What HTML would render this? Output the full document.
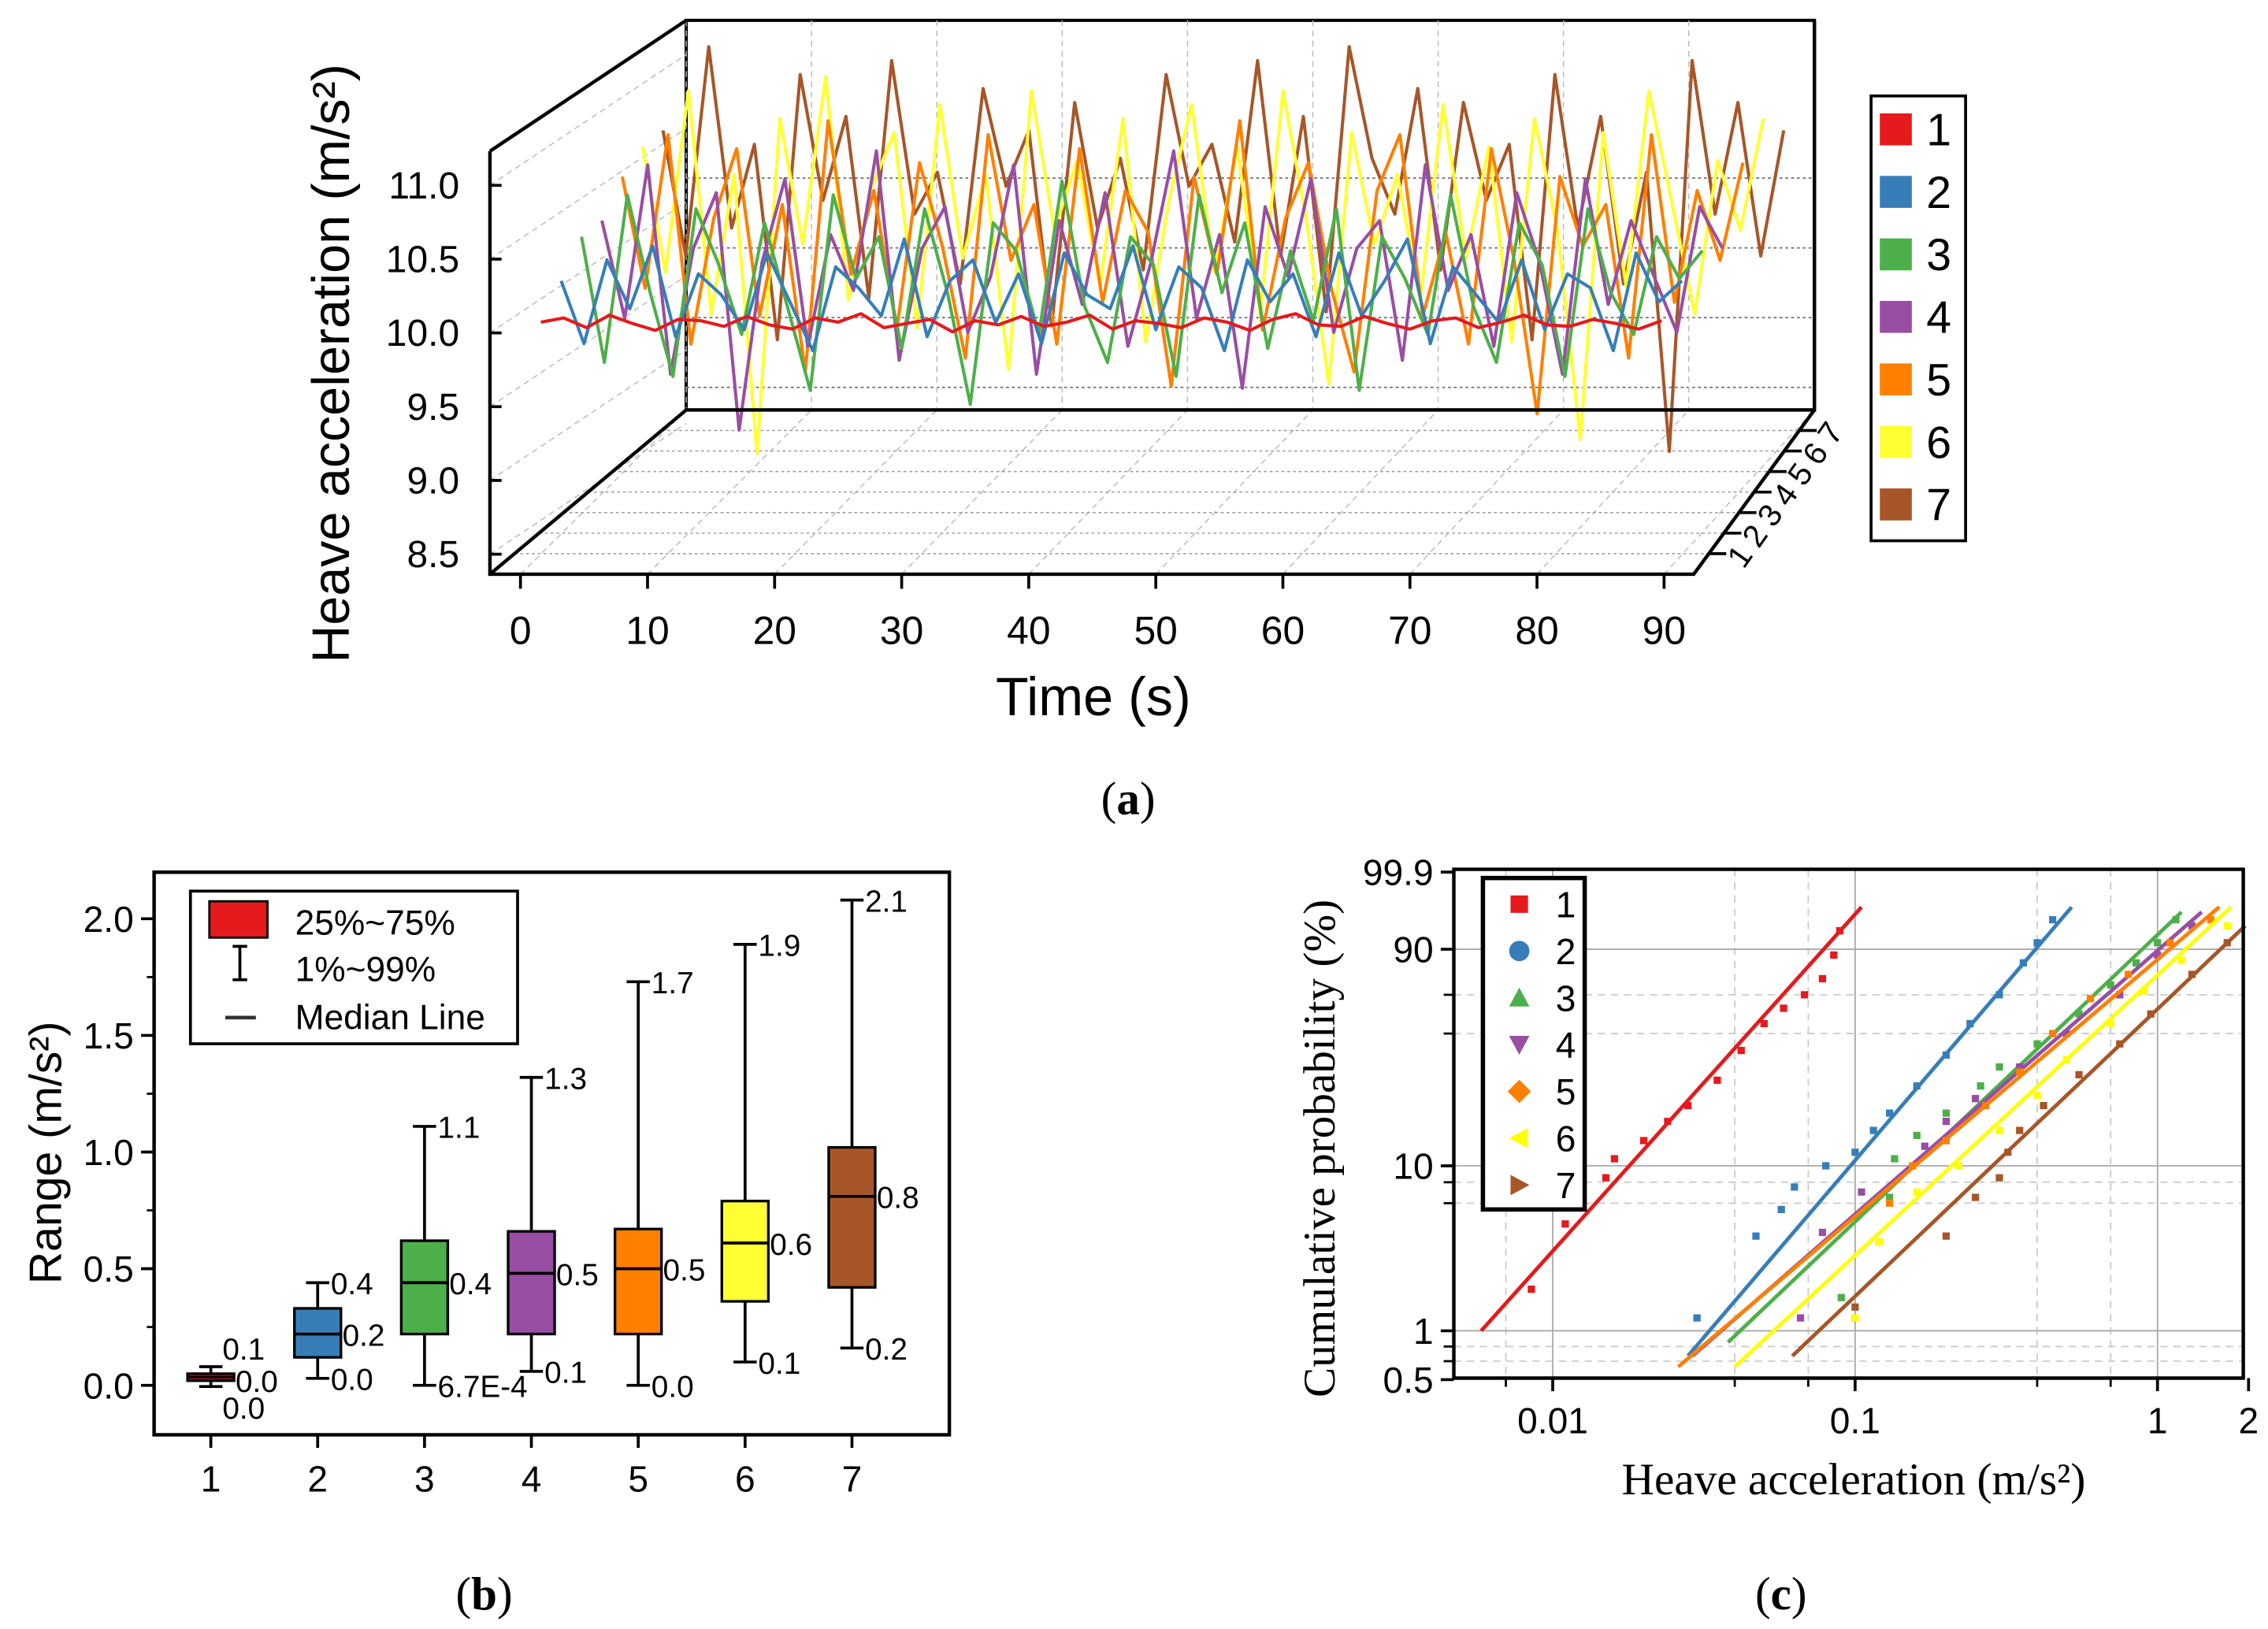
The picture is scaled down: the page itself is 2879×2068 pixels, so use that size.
<!DOCTYPE html>
<html><head><meta charset="utf-8"><style>
html,body{margin:0;padding:0;background:#fff}
svg{display:block}
text{font-family:"Liberation Sans",sans-serif}
.serif{font-family:"Liberation Serif",serif}
</style></head><body>
<svg id="fig" xmlns="http://www.w3.org/2000/svg" width="2879" height="2068" viewBox="0 0 1560 1120.6" preserveAspectRatio="none">
<g id="pa"></g>
<g id="pb"></g>
<g id="pc"></g>
</svg>
<script>
// ---------- Panel (a) data ----------
const seriesNames=["1","2","3","4","5","6","7"];
const seriesColors=["#e41a1c","#377eb8","#4daf4a","#984ea3","#ff7f00","#ffff33","#a65628"];
const timeStep=1.8;
const s1=[10.02,10.05,9.98,10.07,10.01,9.96,10.04,10.03,9.99,10.06,10.00,9.97,10.05,10.02,10.08,9.98,10.01,10.04,9.95,10.03,10.00,10.06,9.99,10.02,10.07,9.97,10.03,10.01,9.98,10.05,10.02,9.96,10.04,10.08,10.00,9.99,10.06,10.01,9.97,10.03,10.05,9.98,10.02,10.07,10.00,9.99,10.04,10.01,9.97,10.03];
const s2=[10.30,9.85,10.45,10.10,10.55,9.90,10.35,10.20,9.95,10.50,10.15,9.80,10.40,10.25,10.05,10.60,9.90,10.30,10.45,10.00,10.35,9.85,10.50,10.20,10.10,10.55,9.95,10.40,10.25,9.80,10.45,10.15,10.35,9.90,10.50,10.05,10.30,10.60,9.85,10.40,10.20,10.00,10.45,9.95,10.35,10.25,9.80,10.50,10.15,10.30];
const s3=[10.6,9.7,10.9,10.2,9.6,10.8,10.4,9.9,10.7,10.1,9.5,10.9,10.3,10.6,9.8,10.8,10.2,9.4,10.7,10.5,9.9,11.0,10.1,9.7,10.6,10.4,9.6,10.9,10.2,10.7,9.8,10.5,10.0,10.8,9.5,10.6,10.3,9.9,10.9,10.1,9.7,10.7,10.4,9.6,10.8,10.2,9.9,10.6,10.3,10.5];
const s4=[10.7,10.0,11.1,9.6,10.5,10.9,9.2,10.4,11.0,9.8,10.6,10.2,11.2,9.7,10.5,10.8,9.9,10.3,11.1,9.6,10.7,10.1,10.9,9.8,10.4,11.2,10.0,10.6,9.5,10.8,10.3,11.0,9.9,10.5,10.7,9.7,11.1,10.2,10.6,9.8,10.9,10.4,9.6,11.0,10.1,10.7,10.3,9.9,10.8,10.5];
const s5=[11.0,10.2,11.3,9.8,10.7,11.2,10.0,10.8,9.6,11.4,10.3,10.9,9.9,11.1,10.5,9.7,11.3,10.4,10.8,9.8,11.2,10.1,10.9,10.6,9.5,11.0,10.3,11.4,9.9,10.7,11.1,10.2,9.6,10.9,11.3,10.0,10.6,9.8,11.2,10.4,9.3,11.0,10.5,10.8,9.7,11.3,10.1,10.9,10.4,11.1];
const s6=[11.2,10.3,11.6,10.0,11.0,9.0,11.4,10.5,11.7,10.1,10.9,11.3,9.9,11.5,10.4,11.0,9.6,11.6,10.6,11.1,10.2,11.4,9.8,10.8,11.5,10.3,11.2,10.0,11.6,10.7,9.5,11.3,10.5,11.0,10.1,11.5,10.4,11.2,9.8,11.4,10.6,9.1,11.3,10.2,11.6,10.8,10.0,11.1,10.6,11.4];
const s7=[11.3,10.4,11.9,10.6,11.2,9.8,11.7,10.8,11.4,10.1,11.8,10.7,11.0,10.2,11.6,10.9,11.3,9.9,11.5,10.6,11.1,10.3,11.7,10.9,11.2,10.5,11.8,10.4,11.4,10.0,11.9,11.1,10.7,11.6,10.3,11.5,10.8,11.2,9.8,11.7,10.6,11.4,10.2,11.0,9.0,11.8,10.7,11.5,10.4,11.3];
const timeSeries=[s1,s2,s3,s4,s5,s6,s7];
const aYTicks=[8.5,9.0,9.5,10.0,10.5,11.0];
const aXTicks=[0,10,20,30,40,50,60,70,80,90];
// ---------- Panel (b) data ----------
const boxCats=["1","2","3","4","5","6","7"];
const boxQ1=[0.02,0.12,0.22,0.22,0.22,0.36,0.42];
const boxQ3=[0.05,0.33,0.62,0.66,0.67,0.79,1.02];
const boxMed=[0.035,0.22,0.44,0.48,0.50,0.61,0.81];
const boxLo=[-0.005,0.03,0.0,0.06,0.0,0.10,0.16];
const boxHi=[0.08,0.44,1.11,1.32,1.73,1.89,2.08];
const boxHiLbl=["0.1","0.4","1.1","1.3","1.7","1.9","2.1"];
const boxMedLbl=["0.0","0.2","0.4","0.5","0.5","0.6","0.8"];
const boxLoLbl=["0.0","0.0","6.7E-4","0.1","0.0","0.1","0.2"];
const bYTicks=[0,0.5,1.0,1.5,2.0];
// ---------- Panel (c) data ----------
const fitX0=[0.0058,0.028,0.038,0.029,0.026,0.040,0.062];
const fitP0=[1.0,0.7,0.85,0.7,0.6,0.6,0.7];
const fitX1=[0.105,0.52,1.2,1.4,1.6,1.75,1.95];
const fitP1=[98.5,98.5,98,98,98.5,98.5,96];
const ptX=[[0.0085,0.011,0.015,0.016,0.02,0.024,0.028,0.035,0.042,0.05,0.058,0.068,0.078,0.085,0.089],
[0.03,0.047,0.057,0.063,0.08,0.1,0.115,0.13,0.16,0.2,0.24,0.3,0.36,0.4,0.45],
[0.09,0.13,0.135,0.16,0.2,0.26,0.3,0.4,0.55,0.7,0.85,1.0,1.15],
[0.066,0.078,0.105,0.17,0.2,0.25,0.35,0.5,0.75,1.0,1.3],
[0.1,0.12,0.13,0.155,0.2,0.27,0.35,0.45,0.6,0.8,1.1,1.5],
[0.1,0.12,0.16,0.22,0.3,0.4,0.5,0.7,0.9,1.2,1.7],
[0.1,0.2,0.25,0.3,0.32,0.35,0.42,0.55,0.75,0.95,1.3,1.7]];
const ptP=[[1.8,4.5,8.5,11,14,18,22,30,42,55,63,70,78,88,95],
[1.2,3.8,5.5,7.5,10,12,16,20,28,40,55,70,85,92,97],
[1.6,6.5,11,15,20,28,35,45,60,75,85,92,97],
[1.2,4,7,13,18,24,35,50,70,88,96],
[1.2,3.5,6,10,14,22,33,50,68,80,92,97],
[1.2,3.5,7,10,16,25,38,55,72,86,96],
[1.4,3.8,6.5,8.5,12,16,22,32,45,60,80,92]];
const cXTicks=[0.01,0.1,1,2];
const cXLbl=["0.01","0.1","1","2"];
const cYTicks=[0.5,1,10,90,99.9];
const cYLbl=["0.5","1","10","90","99.9"];

const NS="http://www.w3.org/2000/svg";
function mk(parent,tag,attrs,txt){const e=document.createElementNS(NS,tag);for(const k in attrs)e.setAttribute(k,attrs[k]);if(txt!==undefined)e.textContent=txt;parent.appendChild(e);return e;}

// ===== Panel A =====
const pa=document.getElementById('pa');
const axX=t=>358+t*8.74;
const frontY=v=>229-(v-10)*101.5;
const serX=(t,d)=>axX(t)+d*14;
const serY=(v,d)=>225-(v-10)*96-d*1.5;
// back wall & frame
let e;
e=mk(pa,'rect',{x:472,y:14,width:776,height:268,fill:'none',stroke:'#000','stroke-width':2.2});


for(const v of aYTicks){const y=serY(v,7)+4;if(y>16&&y<280){e=mk(pa,'line',{x1:472,y1:y,x2:1248,y2:y,stroke:'#777','stroke-width':1,'stroke-dasharray':'2,2'});}}
for(const t of aXTicks){const x=472+t*8.62;e=mk(pa,'line',{x1:x,y1:14,x2:x,y2:282,stroke:'#bbb','stroke-width':0.8,'stroke-dasharray':'4,3'});
 e=mk(pa,'line',{x1:axX(t),y1:395,x2:x,y2:282,stroke:'#bbb','stroke-width':0.8,'stroke-dasharray':'4,3'});}
for(let d=1;d<=7;d++){const f=d/8;e=mk(pa,'line',{x1:337+135*f,y1:395-113*f,x2:1165+83*f,y2:395-113*f,stroke:'#999','stroke-width':0.8,'stroke-dasharray':'2,2'});}
for(const v of aYTicks){const y=frontY(v);e=mk(pa,'line',{x1:337,y1:y,x2:472,y2:y-90,stroke:'#bbb','stroke-width':0.8,'stroke-dasharray':'4,3'});}
// series
for(let d=7;d>=1;d--){const arr=timeSeries[d-1];let pts=arr.map((v,i)=>serX(i*timeStep,d).toFixed(1)+','+serY(v,d).toFixed(1)).join(' ');
 e=mk(pa,'polyline',{points:pts,fill:'none',stroke:seriesColors[d-1],'stroke-width':2.2,'stroke-linejoin':'round'});
 
 }
// left face and floor edges
mk(pa,'path',{d:'M337,104 L472,14 M337,104 L337,395 L1165,395 L1248,282 M337,395 L472,282 L1248,282 L1248,14',fill:'none',stroke:'#000','stroke-width':2.4});
for(const v of aYTicks){const y=frontY(v);mk(pa,'line',{x1:337,y1:y,x2:345,y2:y,stroke:'#000','stroke-width':2});
 e=mk(pa,'text',{x:316,y:y+9,'font-size':26,'text-anchor':'end'},v.toFixed(1));}
for(const t of aXTicks){const x=axX(t);mk(pa,'line',{x1:x,y1:395,x2:x,y2:405,stroke:'#000','stroke-width':2});
 e=mk(pa,'text',{x:x,y:443,'font-size':27,'text-anchor':'middle'},String(t));}
for(let d=1;d<=7;d++){const f=d/8;const x=1165+83*f,y=395-113*f;mk(pa,'line',{x1:x,y1:y,x2:x+12,y2:y,stroke:'#000','stroke-width':2});
 e=mk(pa,'text',{x:x+14,y:y+8,'font-size':22,transform:`rotate(-55 ${x+22} ${y})`},String(d));}
e=mk(pa,'text',{x:240,y:250,'font-size':36,'text-anchor':'middle',transform:'rotate(-90 240 250)'},'Heave acceleration (m/s²)');
e=mk(pa,'text',{x:752,y:492,'font-size':37,'text-anchor':'middle'},'Time (s)');
e=mk(pa,'rect',{x:1287,y:66,width:65,height:306,fill:'#fff',stroke:'#000','stroke-width':2});
for(let i=0;i<7;i++){const y=89+i*43;e=mk(pa,'rect',{x:1293,y:y-11,width:22,height:22,fill:seriesColors[i]});
 e=mk(pa,'text',{x:1325,y:y+11,'font-size':31},seriesNames[i]);}
e=mk(pa,'text',{x:776,y:560,'font-size':32,'text-anchor':'middle',class:'serif'},'(');
e.innerHTML='(<tspan font-weight="bold">a</tspan>)';

// ===== Panel B =====
const pb=document.getElementById('pb');
const bY=v=>953-v*160.5;const bX=i=>145+i*73.5;
e=mk(pb,'rect',{x:106,y:600,width:547,height:387,fill:'none',stroke:'#000','stroke-width':2.4});
for(const v of bYTicks){const y=bY(v);mk(pb,'line',{x1:106,y1:y,x2:97,y2:y,stroke:'#000','stroke-width':2});
 e=mk(pb,'text',{x:92,y:y+9,'font-size':25,'text-anchor':'end'},v.toFixed(1));}
for(let i=0;i<4;i++){const y=bY(0.25+i*0.5);mk(pb,'line',{x1:106,y1:y,x2:101,y2:y,stroke:'#000','stroke-width':1.5});}
for(let i=0;i<7;i++){const x=bX(i);mk(pb,'line',{x1:x,y1:987,x2:x,y2:996,stroke:'#000','stroke-width':2});
 e=mk(pb,'text',{x:x,y:1026,'font-size':25,'text-anchor':'middle'},boxCats[i]);
 const g=mk(pb,'g',{});
 mk(g,'line',{x1:x,y1:bY(boxHi[i]),x2:x,y2:bY(boxLo[i]),stroke:'#000','stroke-width':2});
 mk(g,'line',{x1:x-8,y1:bY(boxHi[i]),x2:x+8,y2:bY(boxHi[i]),stroke:'#000','stroke-width':2});
 mk(g,'line',{x1:x-8,y1:bY(boxLo[i]),x2:x+8,y2:bY(boxLo[i]),stroke:'#000','stroke-width':2});
 mk(g,'rect',{x:x-16,y:bY(boxQ3[i]),width:32,height:Math.max(3,bY(boxQ1[i])-bY(boxQ3[i])),fill:seriesColors[i],stroke:'#000','stroke-width':1.8});
 mk(g,'line',{x1:x-16,y1:bY(boxMed[i]),x2:x+16,y2:bY(boxMed[i]),stroke:'#000','stroke-width':2});
 const fs=21;
 if(i===0){mk(g,'text',{x:x+8,y:bY(boxHi[i])-5,'font-size':fs},boxHiLbl[i]);mk(g,'text',{x:x+17,y:bY(boxMed[i])+10,'font-size':fs},boxMedLbl[i]);mk(g,'text',{x:x+8,y:bY(boxLo[i])+22,'font-size':fs},boxLoLbl[i]);}
 else{mk(g,'text',{x:x+9,y:bY(boxHi[i])+8,'font-size':fs},boxHiLbl[i]);mk(g,'text',{x:x+17,y:bY(boxMed[i])+8,'font-size':fs},boxMedLbl[i]);mk(g,'text',{x:x+9,y:bY(boxLo[i])+8,'font-size':fs},boxLoLbl[i]);}}
e=mk(pb,'text',{x:42,y:793,'font-size':31,'text-anchor':'middle',transform:'rotate(-90 42 793)'},'Range (m/s²)');
e=mk(pb,'rect',{x:131,y:613,width:225,height:105,fill:'#fff',stroke:'#000','stroke-width':2});
mk(pb,'rect',{x:144,y:620,width:40,height:25,fill:'#e41a1c',stroke:'#000','stroke-width':1.5});
mk(pb,'path',{d:'M165,651 L165,674 M160,651 L170,651 M160,674 L170,674',stroke:'#000','stroke-width':2});
mk(pb,'line',{x1:155,y1:700,x2:176,y2:700,stroke:'#333','stroke-width':2.5});
mk(pb,'text',{x:203,y:643,'font-size':24},'25%~75%');
mk(pb,'text',{x:203,y:675,'font-size':24},'1%~99%');
mk(pb,'text',{x:203,y:708,'font-size':24},'Median Line');
e=mk(pb,'text',{x:333,y:1107,'font-size':32,'text-anchor':'middle',class:'serif'},'');e.innerHTML='(<tspan font-weight="bold">b</tspan>)';


// ===== Panel C =====
const pc=document.getElementById('pc');
const cX=v=>1068+(Math.log10(v)+2)*208;
const W=p=>Math.log(-Math.log(1-p/100));
const cY=p=>653-(W(p)-W(90))*48.3;
for(const v of [0.007,0.04,0.07,0.4,0.7]){e=mk(pc,'line',{x1:cX(v),y1:598,x2:cX(v),y2:948,stroke:'#ccc','stroke-width':1,'stroke-dasharray':'5,4'});}
for(const p of [70,50,8,6,0.8,0.65]){e=mk(pc,'line',{x1:1000,y1:cY(p),x2:1543,y2:cY(p),stroke:'#ccc','stroke-width':1,'stroke-dasharray':'5,4'});}
for(const v of [0.01,0.1,1]){mk(pc,'line',{x1:cX(v),y1:598,x2:cX(v),y2:948,stroke:'#aaa','stroke-width':1});}
for(const p of [1,10,90]){mk(pc,'line',{x1:1000,y1:cY(p),x2:1543,y2:cY(p),stroke:'#aaa','stroke-width':1});}
for(let s=0;s<7;s++){const col=seriesColors[s]==='#ffff33'?'#ffff00':seriesColors[s];
 e=mk(pc,'line',{x1:cX(fitX0[s]),y1:cY(fitP0[s]),x2:cX(fitX1[s]),y2:cY(fitP1[s]),stroke:col,'stroke-width':2.6});
 
 for(let k=0;k<ptX[s].length;k++){const x=cX(ptX[s][k]),y=cY(ptP[s][k]);
  e=mk(pc,'rect',{x:x-2.5,y:y-2.5,width:5,height:5,fill:col});
  }}
e=mk(pc,'path',{d:'M1000,598 L1000,948 L1543,948 L1543,598 Z',fill:'none',stroke:'#000','stroke-width':2.4});
for(let i=0;i<cXTicks.length;i++){const x=cX(cXTicks[i]);mk(pc,'line',{x1:x,y1:948,x2:x,y2:957,stroke:'#000','stroke-width':2});
 e=mk(pc,'text',{x:x,y:986,'font-size':25,'text-anchor':'middle'},cXLbl[i]);}
for(let i=0;i<cYTicks.length;i++){const y=cY(cYTicks[i]);mk(pc,'line',{x1:1000,y1:y,x2:991,y2:y,stroke:'#000','stroke-width':2});
 e=mk(pc,'text',{x:986,y:y+9,'font-size':25,'text-anchor':'end'},cYLbl[i]);}
for(const p of [70,50,8,6,0.8,0.65]){mk(pc,'line',{x1:1000,y1:cY(p),x2:993,y2:cY(p),stroke:'#000','stroke-width':1.5});}
for(const v of [0.007,0.04,0.07,0.4,0.7]){mk(pc,'line',{x1:cX(v),y1:948,x2:cX(v),y2:954,stroke:'#000','stroke-width':1.5});}
e=mk(pc,'text',{x:918,y:790,'font-size':31,'text-anchor':'middle',class:'serif',transform:'rotate(-90 918 790)'},'Cumulative probability (%)');
e=mk(pc,'text',{x:1275,y:1028,'font-size':31,'text-anchor':'middle',class:'serif'},'Heave acceleration (m/s²)');
e=mk(pc,'rect',{x:1020,y:604,width:70,height:228,fill:'#fff',stroke:'#000','stroke-width':3});
const mkShape=(s,x,y,col)=>{const r=7;const sh=['M-6,-6h12v12h-12z','M0,-7a7,7 0 1 0 0.01,0z','M0,-7L7,6L-7,6z','M0,7L7,-6L-7,-6z','M0,-8L8,0L0,8L-8,0z','M-7,0L6,-7L6,7z','M7,0L-6,-7L-6,7z'][s];return mk(pc,'path',{d:sh,fill:col,transform:`translate(${x},${y})`});};
for(let i=0;i<7;i++){const y=622+i*32.2;const col=seriesColors[i]==='#ffff33'?'#ffff00':seriesColors[i];e=mkShape(i,1045,y,col);
 e=mk(pc,'text',{x:1070,y:y+9,'font-size':25},seriesNames[i]);}
e=mk(pc,'text',{x:1225,y:1107,'font-size':32,'text-anchor':'middle',class:'serif'},'');e.innerHTML='(<tspan font-weight="bold">c</tspan>)';

</script>
</body></html>
